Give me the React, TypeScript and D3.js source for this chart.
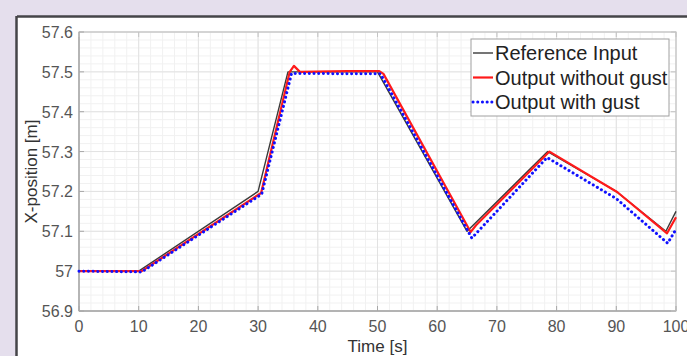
import React from "react";
import * as d3 from "d3";

const refTime = [0, 10, 30, 35, 50, 65, 78.5, 90, 98.3, 100];
const refValue = [57, 57, 57.2, 57.5, 57.5, 57.1, 57.3, 57.2, 57.1, 57.15];

const noGustTime = [0, 10.5, 30.5, 35.3, 36, 37, 45, 50.3, 51, 65.6, 66.5, 78.8, 90.2, 98.5, 100];
const noGustValue = [57, 57, 57.196, 57.5, 57.515, 57.5, 57.502, 57.502, 57.495, 57.098, 57.115, 57.3, 57.198, 57.095, 57.135];

const gustTime = [0, 10.5, 30.6, 35.6, 50.5, 65.8, 78.4, 90, 98.6, 100];
const gustValue = [57, 56.998, 57.193, 57.496, 57.495, 57.083, 57.285, 57.182, 57.07, 57.105];

const xTicks = [0, 10, 20, 30, 40, 50, 60, 70, 80, 90, 100];
const yTicks = [56.9, 57, 57.1, 57.2, 57.3, 57.4, 57.5, 57.6];
const yTickLabels = ["56.9", "57", "57.1", "57.2", "57.3", "57.4", "57.5", "57.6"];

const legendLabels = ["Reference Input", "Output without gust", "Output with gust"];

const W = 687, H = 356;
const L = 79, R = 676, T = 32, B = 311;

export default function App() {
  const x = d3.scaleLinear().domain([0, 100]).range([L, R]);
  const y = d3.scaleLinear().domain([56.9, 57.6]).range([B, T]);
  const line = d3.line<[number, number]>().x(d => x(d[0])).y(d => y(d[1]));
  const zip = (a: number[], b: number[]) => a.map((v, i) => [v, b[i]] as [number, number]);

  const minorX = d3.range(0, 100.001, 2);
  const minorY = d3.range(0, 36).map(i => 56.9 + i * 0.02);

  const font = "'Liberation Sans', Arial, sans-serif";
  const styles = [
    { stroke: "#3a3a3a", width: 1.4, dash: undefined as string | undefined, cap: "butt" },
    { stroke: "#ff1a1a", width: 2.2, dash: undefined, cap: "butt" },
    { stroke: "#1010ff", width: 3, dash: "0.1 4.6", cap: "round" },
  ];
  const series = [zip(refTime, refValue), zip(noGustTime, noGustValue), zip(gustTime, gustValue)];
  const drawOrder = [0, 1, 2];

  return (
    <svg width={W} height={H} style={{ position: "absolute", left: 0, top: 0 }} fontFamily={font}>
      <rect x={0} y={0} width={W} height={H} fill="#e5dfed" />
      <rect x={17} y={17} width={W} height={H} fill="#ffffff" />
      <line x1={17} y1={16.5} x2={W} y2={16.5} stroke="#454548" strokeWidth={2.5} />
      <line x1={16.5} y1={16} x2={16.5} y2={H} stroke="#454548" strokeWidth={2.5} />

      <g>
        {minorX.map(v => (
          <line key={"mx" + v} x1={x(v)} x2={x(v)} y1={T} y2={B} stroke="#f1f1f1" strokeWidth={1} />
        ))}
        {minorY.map((v, i) => (
          <line key={"my" + i} x1={L} x2={R} y1={y(v)} y2={y(v)} stroke="#f1f1f1" strokeWidth={1} />
        ))}
        {xTicks.map(v => (
          <line key={"gx" + v} x1={x(v)} x2={x(v)} y1={T} y2={B} stroke="#e2e2e2" strokeWidth={1} />
        ))}
        {yTicks.map(v => (
          <line key={"gy" + v} x1={L} x2={R} y1={y(v)} y2={y(v)} stroke="#e2e2e2" strokeWidth={1} />
        ))}
      </g>

      <rect x={L} y={T} width={R - L} height={B - T} fill="none" stroke="#c4c4c4" strokeWidth={1.2} />
      <line x1={L} x2={R} y1={B} y2={B} stroke="#a8a8a8" strokeWidth={1.4} />
      <line x1={L} x2={L} y1={T} y2={B} stroke="#a8a8a8" strokeWidth={1.4} />

      {xTicks.map(v => (
        <g key={"tx" + v}>
          <line x1={x(v)} x2={x(v)} y1={B} y2={B - 5} stroke="#a8a8a8" />
          <line x1={x(v)} x2={x(v)} y1={T} y2={T + 5} stroke="#c4c4c4" />
          <text x={x(v)} y={B + 21} textAnchor="middle" fontSize={16} fill="#555">{v}</text>
        </g>
      ))}
      {yTicks.map((v, i) => (
        <g key={"ty" + v}>
          <line x1={L} x2={L + 5} y1={y(v)} y2={y(v)} stroke="#a8a8a8" />
          <line x1={R} x2={R - 5} y1={y(v)} y2={y(v)} stroke="#c4c4c4" />
          <text x={L - 6} y={y(v) + 6} textAnchor="end" fontSize={16} fill="#555">{yTickLabels[i]}</text>
        </g>
      ))}

      <text x={(L + R) / 2} y={352} textAnchor="middle" fontSize={17} fill="#333">Time [s]</text>
      <text transform={`translate(37,${(T + B) / 2}) rotate(-90)`} textAnchor="middle" fontSize={17} fill="#333">X-position [m]</text>

      {drawOrder.map(i => (
        <path key={"s" + i} d={line(series[i]) || ""} fill="none" stroke={styles[i].stroke}
          strokeWidth={styles[i].width} strokeDasharray={styles[i].dash}
          strokeLinecap={styles[i].cap as any} strokeLinejoin="round" />
      ))}

      <g>
        <rect x={471} y={39} width={198} height={77} fill="#fff" stroke="#a0a0a0" strokeWidth={1} />
        {legendLabels.map((lab, i) => {
          const yy = 53 + i * 24.5;
          return (
            <g key={"lg" + i}>
              <line x1={473} x2={493} y1={yy} y2={yy} stroke={styles[i].stroke}
                strokeWidth={styles[i].width} strokeDasharray={styles[i].dash}
                strokeLinecap={styles[i].cap as any} />
              <text x={495} y={yy + 7} fontSize={20} fill="#222">{lab}</text>
            </g>
          );
        })}
      </g>
    </svg>
  );
}
